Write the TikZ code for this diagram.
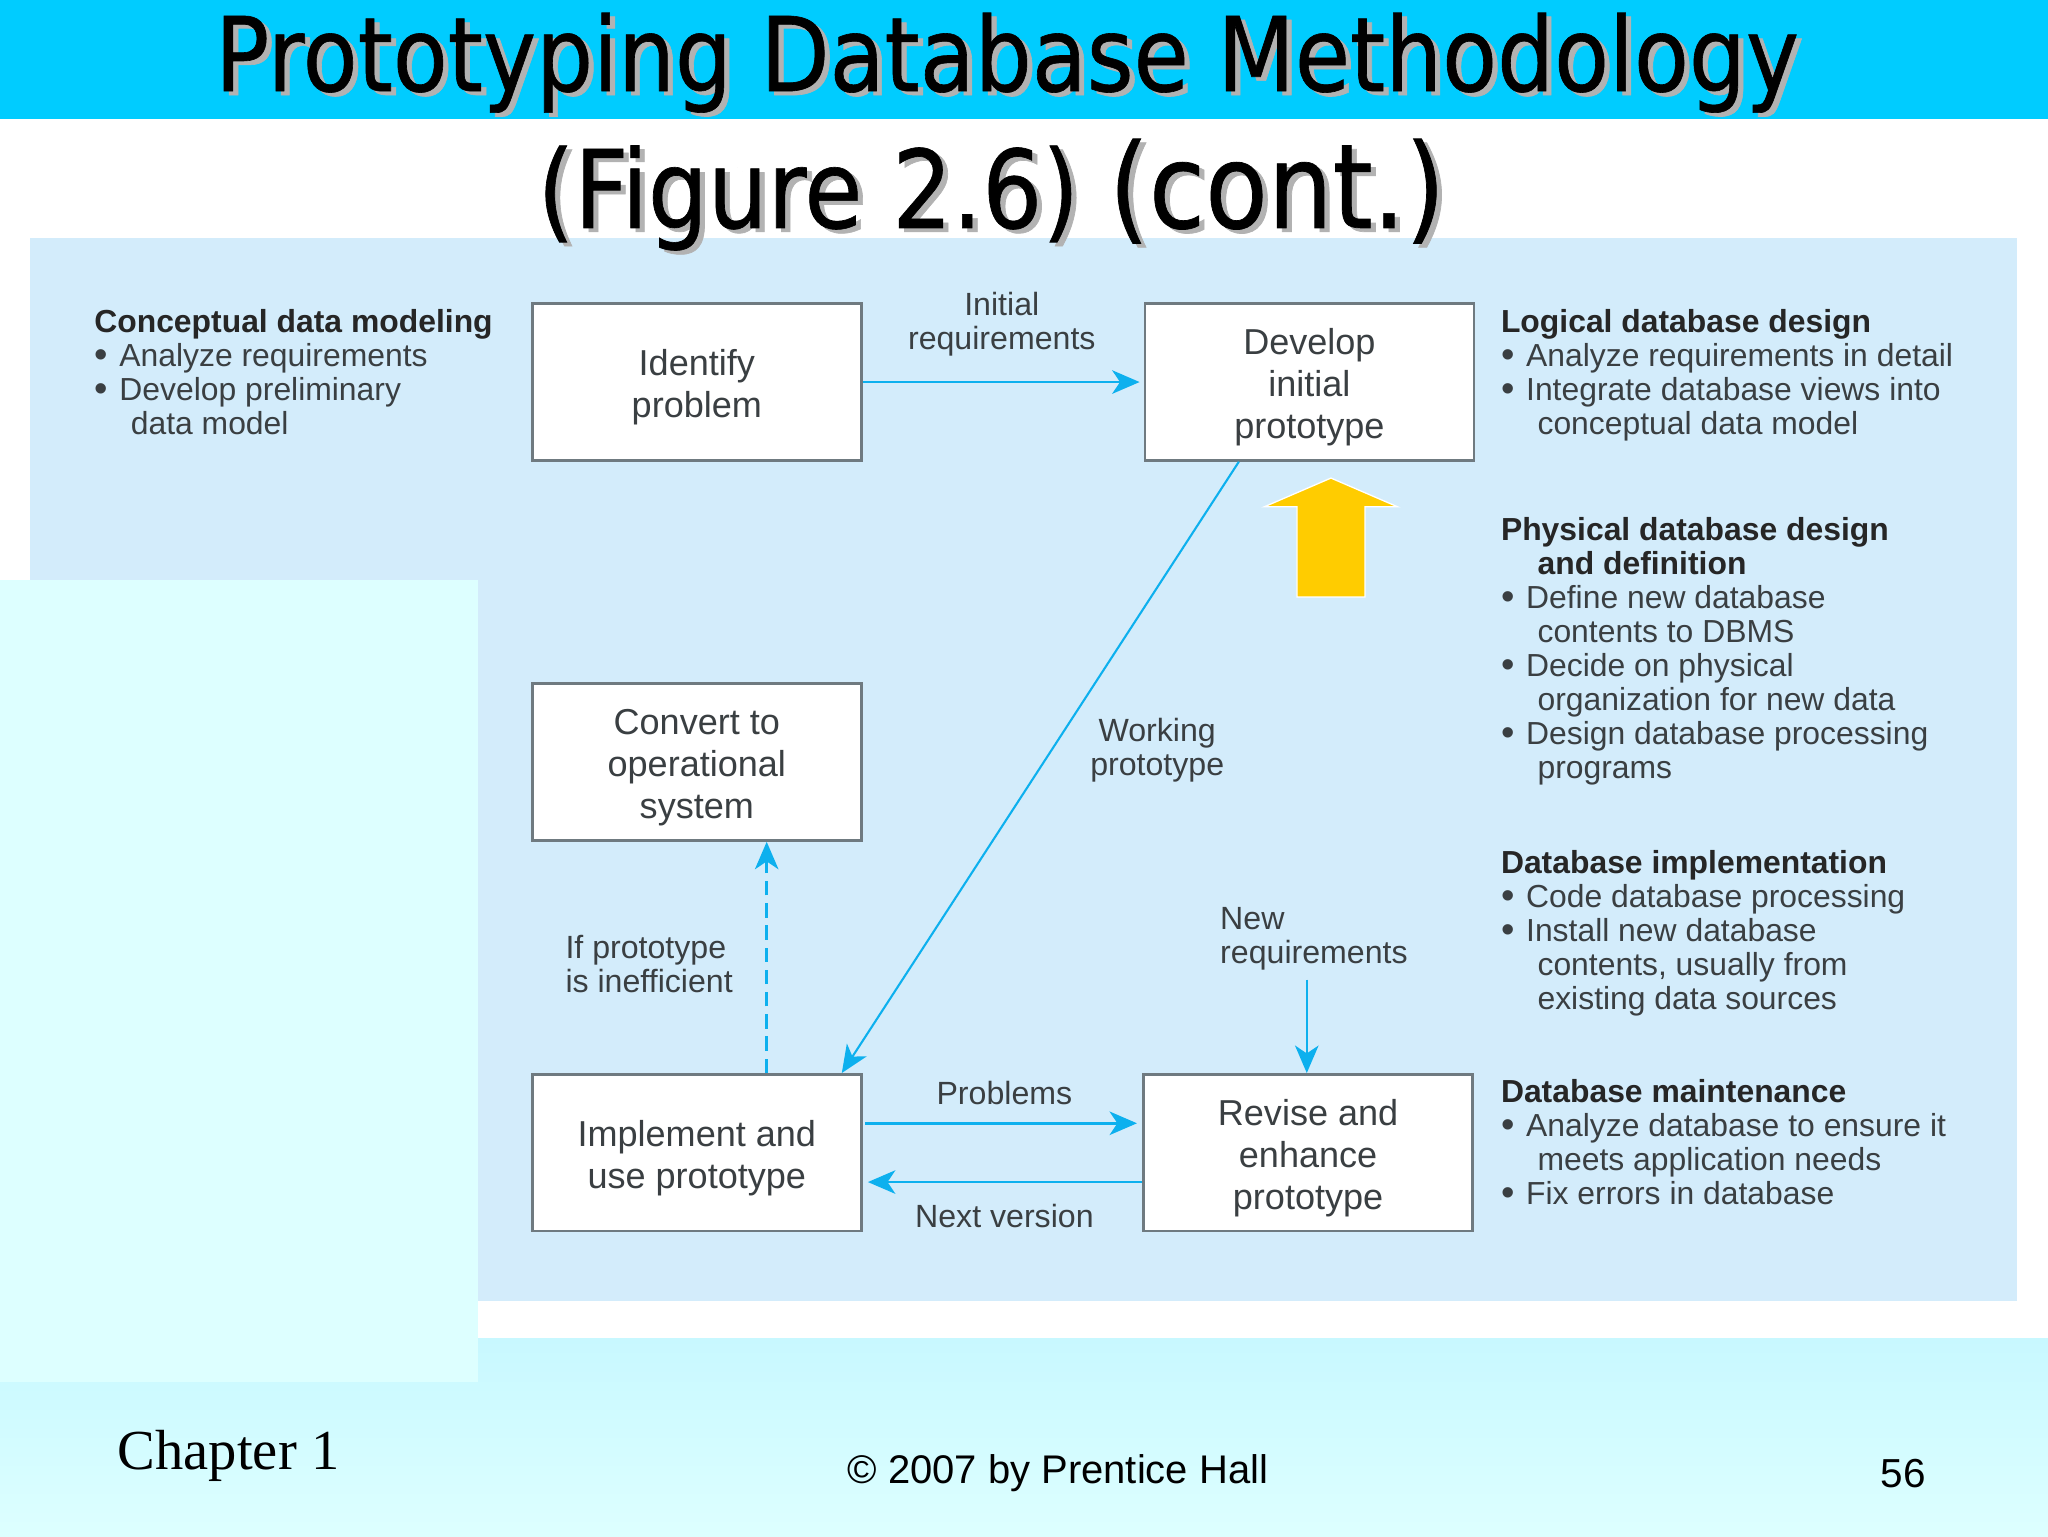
\documentclass[tikz,border=0pt]{standalone}
\usepackage{fontspec}
\usetikzlibrary{arrows.meta}
\setmainfont{Liberation Sans}
\newfontfamily\titlefont[FakeStretch=0.87,FakeBold=0.6]{DejaVu Sans}
\newfontfamily\chapterfont{Liberation Serif}
\definecolor{headcyan}{HTML}{00CCFF}
\definecolor{panelblue}{HTML}{D3ECFB}
\definecolor{palecyan}{HTML}{DDFFFF}
\definecolor{footcyan}{HTML}{C8F8FF}
\definecolor{flowblue}{HTML}{0DB0EE}
\definecolor{boxgray}{HTML}{6F7A80}
\definecolor{textgray}{HTML}{3A3F42}
\definecolor{arrowgold}{HTML}{FFCC00}
\newcommand{\sidehead}[1]{{\bfseries\color{black!85}#1}}
\newcommand{\sideitem}{\raisebox{-0.7pt}{\scalebox{1.2}{\textbullet}}\hspace{9pt}}
\newcommand{\sidecont}{\hspace*{28pt}}
\newcommand{\boxtop}{\rule{0pt}{28pt}}

\begin{document}
\begin{tikzpicture}[x=1pt, y=-1pt, node distance={100pt}, >={Stealth[length=21pt,width=18pt,inset=6pt]},
  main/.style = {draw=boxgray, line width=2pt, fill=white, minimum width=252pt, minimum height=120pt, align=center, text=textgray, font=\fontsize{27.6}{32}\selectfont},
  flow/.style = {color=flowblue, line width=2pt},
  tag/.style = {inner sep=0pt, text=textgray, font=\fontsize{24.6}{26}\selectfont},
  side/.style = {tag, anchor=north west, align=left, font=\fontsize{24.4}{26}\selectfont},
  title/.style = {inner sep=0pt, font=\titlefont\fontsize{79}{79}\selectfont}]
\useasboundingbox (0,0) rectangle (1568,1176);
\fill[white] (0,0) rectangle (1568,1176);
\fill[headcyan] (0,0) rectangle (1568,91);
\fill[panelblue] (23,182) rectangle (1544,996);
\shade[top color=footcyan, bottom color=palecyan] (0,1025) rectangle (1568,1176);
\fill[palecyan] (0,444) rectangle (366,1058);

\node[title, text=black!30] at (775,51) {Prototyping Database Methodology};
\node[title] (title1) at (771,48) {Prototyping Database Methodology};
\node[title, text=black!30, font=\titlefont\fontsize{83}{83}\selectfont] at (763,152) {(Figure 2.6) {\fontsize{90}{90}\selectfont (cont.)}};
\node[title, font=\titlefont\fontsize{83}{83}\selectfont] (title2) at (759,149) {(Figure 2.6) {\fontsize{90}{90}\selectfont (cont.)}};

\node[main] (identify) at (533.5,292.5) {\boxtop Identify\\problem};
\node[main] (develop) [right of=identify, xshift=369pt] {\boxtop Develop\\initial\\prototype};
\node[main] (convert) at (533.5,583.5) {\boxtop Convert to\\operational\\system};
\node[main] (implement) at (533.5,882.5) {\boxtop Implement and\\use prototype};
\node[main] (revise) [right of=implement, xshift=368pt] {\boxtop Revise and\\enhance\\prototype};

\node[tag, align=center] (initial) at (767,248) {Initial\\requirements};
\node[tag, align=center] (working) at (886,574) {Working\\prototype};
\node[tag, align=left] (inefficient) at (497,738) {If prototype\\is inefficient};
\node[tag, align=left] (newreq) at (1006,719) {New\\requirements};
\node[tag] (problems) at (769,837) {Problems};
\node[tag] (nextversion) at (769,931) {Next version};
\coordinate (newreqend) at (1000.5,750);

\draw[flow, ->, shorten >=3pt] (identify.east) -- (develop.west);
\draw[flow, ->, line width=1.6pt] ([xshift=-54pt]develop.south) -- ([xshift=111pt]implement.north);
\draw[flow, ->, dashed, dash pattern=on 11pt off 6pt] ([xshift=53.5pt]implement.north) -- ([xshift=53.5pt]convert.south);
\draw[flow, ->, line width=1.6pt] (newreqend) -- ([xshift=-1pt]revise.north);
\draw[flow, ->, shorten <=2pt, shorten >=4pt] ([yshift=22.5pt]implement.east) -- ([yshift=22.5pt]revise.west);
\draw[flow, ->, shorten >=4pt] ([yshift=-22.5pt]revise.west) -- ([yshift=-22.5pt]implement.east);

\filldraw[fill=arrowgold, draw=white, line width=1pt] (1019,366) -- (1070,388) -- (1045,388) -- (1045,457) -- (993,457) -- (993,388) -- (968,388) -- cycle;

\node[side] (conceptual) at (72,237) {\sidehead{Conceptual data modeling}\\\sideitem Analyze requirements\\\sideitem Develop preliminary\\\sidecont data model};
\node[side] (logical) at (1149,237) {\sidehead{Logical database design}\\\sideitem Analyze requirements in detail\\\sideitem Integrate database views into\\\sidecont conceptual data model};
\node[side] (physical) at (1149,396) {\sidehead{Physical database design}\\\sidecont\sidehead{and definition}\\\sideitem Define new database\\\sidecont contents to DBMS\\\sideitem Decide on physical\\\sidecont organization for new data\\\sideitem Design database processing\\\sidecont programs};
\node[side] (implementation) at (1149,651) {\sidehead{Database implementation}\\\sideitem Code database processing\\\sideitem Install new database\\\sidecont contents, usually from\\\sidecont existing data sources};
\node[side] (maintenance) at (1149,826) {\sidehead{Database maintenance}\\\sideitem Analyze database to ensure it\\\sidecont meets application needs\\\sideitem Fix errors in database};

\node[inner sep=0pt, font=\chapterfont\fontsize{43.3}{43}\selectfont] (chapter) at (175,1115) {Chapter 1};
\node[inner sep=0pt, font=\fontsize{30.6}{30}\selectfont] (copyright) at (810,1128) {© 2007 by Prentice Hall};
\node[inner sep=0pt, font=\fontsize{31}{31}\selectfont] (pagenum) at (1457,1128) {56};
\end{tikzpicture}
\end{document}
